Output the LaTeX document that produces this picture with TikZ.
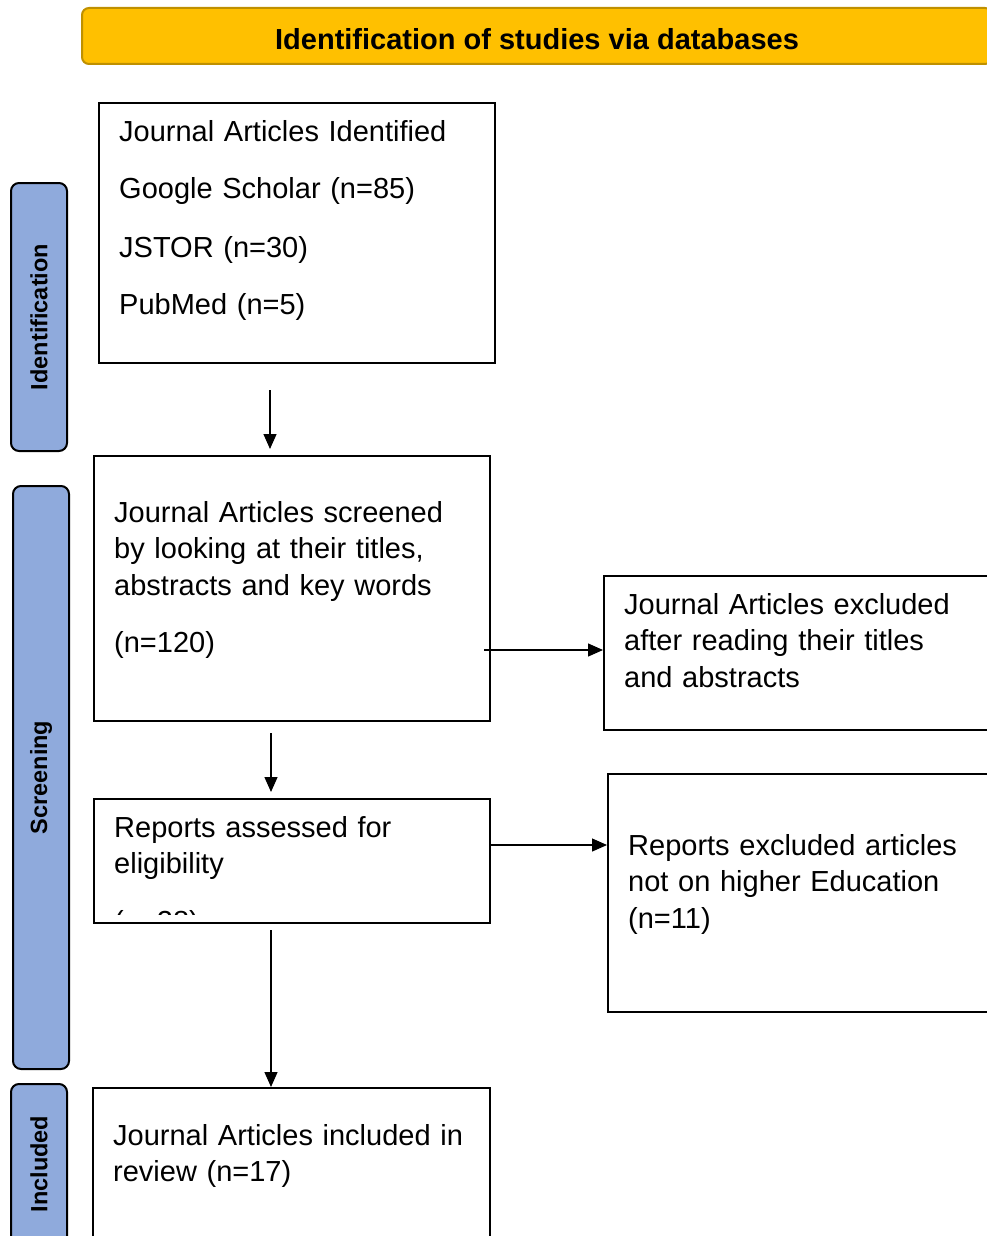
\documentclass[tikz,border=0pt]{standalone}
\usepackage{fontspec}
\setmainfont{Liberation Sans}
\usetikzlibrary{arrows.meta}
\definecolor{bannerfill}{HTML}{FFC000}
\definecolor{bannerline}{HTML}{BF9000}
\definecolor{sidefill}{HTML}{8FAADC}
\begin{document}
\begin{tikzpicture}[x=1pt,y=-1pt,
  box/.style={draw, line width=2.4pt, inner sep=0pt, anchor=north west},
  txt/.style={font=\fontsize{29}{36.5}\selectfont, text width=360pt, align=left, inner sep=0pt, anchor=base west},
  side/.style={draw=black, fill=sidefill, line width=2pt, rounded corners=8pt, inner sep=0pt, anchor=north west},
  sidetxt/.style={font=\bfseries\fontsize{23.5}{28}\selectfont, rotate=90, inner sep=0pt},
  arr/.style={line width=1.3pt, -{Triangle[length=15pt,width=13pt]}}
  ]
\useasboundingbox (0,0) rectangle (987,1236);
\clip (0,0) rectangle (987,1236);
% banner
\node[draw=bannerline, fill=bannerfill, line width=2pt, rounded corners=7pt, minimum width=910pt, minimum height=56pt, anchor=north west, inner sep=0pt] (banner) at (81,7) {};
\node[font=\bfseries\fontsize{29}{34}\selectfont, inner sep=0pt] (bannert) at ([yshift=-3pt]banner.center) {Identification of studies via databases};
% side labels
\node[side, minimum width=56pt, minimum height=268pt] (sid) at (10,182) {};
\node[sidetxt] (sidt) at (sid.center) {Identification};
\node[side, minimum width=56pt, minimum height=583pt] (sscr) at (12,485) {};
\node[sidetxt] (sscrt) at (sscr.center) {Screening};
\node[side, minimum width=56pt, minimum height=160pt] (sinc) at (10,1083) {};
\node[sidetxt] (sinct) at (sinc.center) {Included};
% boxes
\node[box, minimum width=396pt, minimum height=260pt] (b1) at (98,102) {};
\node[txt] (t1) at (119,141) {Journal Articles Identified\\[21.5pt]Google Scholar (n=85)\\[21.5pt]JSTOR (n=30)\\[21pt]PubMed (n=5)};
\node[box, minimum width=396pt, minimum height=265pt] (b2) at (93,455) {};
\node[txt] (t2) at (114,522) {Journal Articles screened\\by looking at their titles,\\abstracts and key words\\[21pt](n=120)};
\node[box, minimum width=420pt, minimum height=154pt] (b3) at (603,575) {};
\node[txt] (t3) at (624,614) {Journal Articles excluded\\after reading their titles\\and abstracts};
\node[box, minimum width=396pt, minimum height=124pt] (b4) at (93,798) {};
\begin{scope}
\clip (95,800) rectangle (487,914);
\node[txt] (t4) at (114,837) {Reports assessed for\\eligibility\\[21pt](n=28)};
\end{scope}
\node[box, minimum width=420pt, minimum height=238pt] (b5) at (607,773) {};
\node[txt] (t5) at (628,855) {Reports excluded articles\\not on higher Education\\(n=11)};
\node[box, minimum width=397pt, minimum height=200pt] (b6) at (92,1087) {};
\node[txt] (t6) at (113,1145) {Journal Articles included in\\review (n=17)};
% connectors
\coordinate (a1) at (270,390);
\draw[arr, shorten >=6pt] (a1) -- (a1 |- b2.north);
\coordinate (a2) at (484,650);
\draw[arr] (a2) -- (a2 -| b3.west);
\coordinate (a3) at (271,733);
\draw[arr, shorten >=6pt] (a3) -- (a3 |- b4.north);
\coordinate (a4) at (490,845);
\draw[arr] (a4) -- (a4 -| b5.west);
\coordinate (a5) at (271,930);
\draw[arr] (a5) -- (a5 |- b6.north);
\end{tikzpicture}
\end{document}
